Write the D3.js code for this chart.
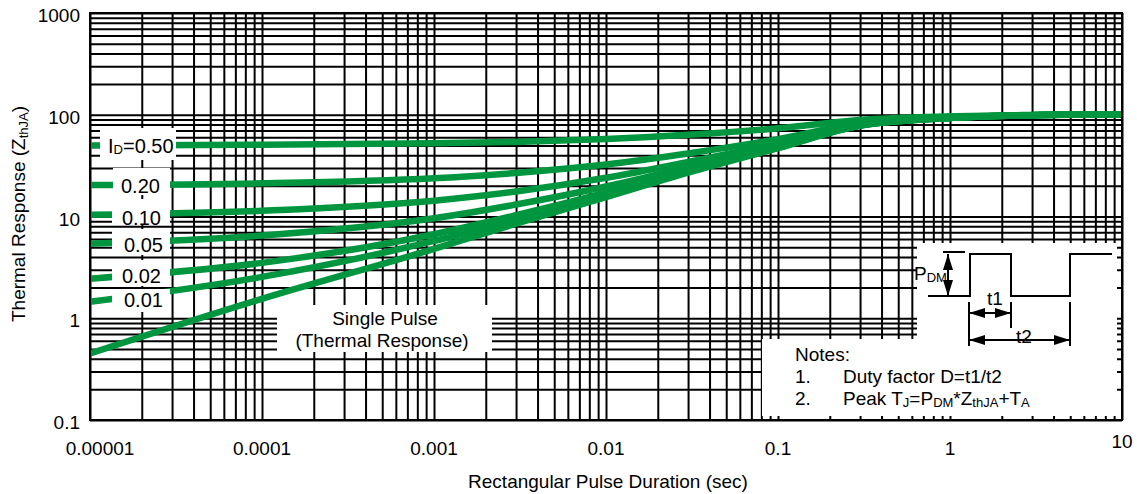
<!DOCTYPE html>
<html><head><meta charset="utf-8">
<script src="https://cdn.jsdelivr.net/npm/d3@7"></script>
<style>
body{margin:0;background:#fff;}
svg{display:block;font-family:"Liberation Sans",Arial,Helvetica,sans-serif;}
</style></head><body>
<svg id="chart" width="1137" height="494"></svg>
<script>
// ---------------- DATA ----------------
const pulseTimes = [1e-5, 1e-4, 1e-3, 3e-3, 1e-2, 3e-2, 1e-1, 3e-1, 1, 3, 10];
const dutyNames  = ["0.50", "0.20", "0.10", "0.05", "0.02", "0.01", "Single Pulse"];
const zD050  = [50,   50.8, 52.4, 54,   57.8, 63.5, 73.5, 89,   96.5, 99.5, 101];
const zD020  = [20.4, 21.2, 23.8, 26.8, 32.4, 41.6, 57.6, 82.4, 94.4, 99.2, 101];
const zD010  = [10.4, 11.4, 14.3, 17.6, 24,   34.3, 52.3, 80.2, 93.7, 99.1, 101];
const zD005  = [5.4,  6.5,  9.6,  13.1, 19.7, 30.6, 49.6, 79.1, 93.3, 99,   101];
const zD002  = [2.45, 3.5,  6.7,  10.3, 17.2, 28.5, 48,   78.4, 93.1, 99,   101];
const zD001  = [1.45, 2.55, 5.75, 9.4,  16.3, 27.7, 47.5, 78.2, 93,   99,   101];
const zSingle= [0.45, 1.55, 4.8,  8.5,  15.5, 27,   47,   78,   93,   99,   101];
const xTickValues = [1e-5, 1e-4, 1e-3, 1e-2, 1e-1, 1, 10];
const xTickLabels = ["0.00001", "0.0001", "0.001", "0.01", "0.1", "1", "10"];
const yTickValues = [0.1, 1, 10, 100, 1000];
const yTickLabels = ["0.1", "1", "10", "100", "1000"];
const xTitle = "Rectangular Pulse Duration (sec)";
const yTitleMain = "Thermal Response (Z", yTitleSub = "thJA", yTitleEnd = ")";
const singleText = ["Single Pulse", "(Thermal Response)"];
const notesTitle = "Notes:";

// ---------------- LAYOUT ----------------
const W = 1137, H = 494;
const L = 90, R = 1122, T = 13, B = 420;
const green = "#00963f";
const FS = 19;

const svg = d3.select("#chart");
svg.append("rect").attr("width", W).attr("height", H).attr("fill", "#fff");

const x = d3.scaleLog().domain([1e-5, 10]).range([L, R]);
const y = d3.scaleLog().domain([0.1, 1000]).range([B, T]);

// grid lines
const grid = svg.append("g");
grid.append("g").attr("transform", `translate(0,${B})`)
  .call(d3.axisBottom(x).tickValues(x.ticks()).tickSize(-(B - T)).tickFormat(""))
  .call(g => g.select(".domain").remove())
  .call(g => g.selectAll("line").attr("stroke", "#000").attr("stroke-width", 2));
grid.append("g").attr("transform", `translate(${L},0)`)
  .call(d3.axisLeft(y).tickValues(y.ticks()).tickSize(-(R - L)).tickFormat(""))
  .call(g => g.select(".domain").remove())
  .call(g => g.selectAll("line").attr("stroke", "#000").attr("stroke-width", 2));

// curves
const seriesValues = [zD050, zD020, zD010, zD005, zD002, zD001, zSingle];
const series = dutyNames.map((n, i) => ({name: n, pts: pulseTimes.map((t, j) => ({t, v: seriesValues[i][j]}))}));
const line = d3.line().x(d => x(d.t)).y(d => y(d.v)).curve(d3.curveMonotoneX);
svg.append("g").selectAll("path").data(series).join("path")
  .attr("d", d => line(d.pts))
  .attr("fill", "none").attr("stroke", green).attr("stroke-width", 6.5);

// white label boxes (left duty labels)
const labelBoxes = [
  {x0: 100, y0: 128, x1: 176, y1: 160, bx: 108, by: 153, sub: true},
  {x0: 113, y0: 168, x1: 170, y1: 195, bx: 121, by: 193},
  {x0: 112, y0: 199, x1: 170, y1: 225, bx: 122, by: 225},
  {x0: 112, y0: 229, x1: 170, y1: 255, bx: 124, by: 252},
  {x0: 112, y0: 260, x1: 170, y1: 286, bx: 122, by: 283},
  {x0: 112, y0: 289, x1: 170, y1: 312, bx: 124, by: 307}
];
const lab = svg.append("g");
labelBoxes.forEach((b, i) => {
  lab.append("rect").attr("x", b.x0).attr("y", b.y0).attr("width", b.x1 - b.x0).attr("height", b.y1 - b.y0).attr("fill", "#fff");
  const t = lab.append("text").attr("x", b.bx).attr("y", b.by).attr("font-size", 20).attr("fill", "#000");
  if (b.sub) {
    t.append("tspan").text("I");
    t.append("tspan").attr("font-size", 13).attr("dy", 1).text("D");
    t.append("tspan").attr("dy", -1).text("=" + dutyNames[i]);
  } else t.text(dutyNames[i]);
});

// single pulse box
svg.append("rect").attr("x", 277).attr("y", 305).attr("width", 215).attr("height", 47).attr("fill", "#fff");
svg.append("text").attr("x", 385).attr("y", 325).attr("text-anchor", "middle").attr("font-size", FS).text(singleText[0]);
svg.append("text").attr("x", 382).attr("y", 347).attr("text-anchor", "middle").attr("font-size", FS).text(singleText[1]);

// notes + inset box
svg.append("rect").attr("x", 762).attr("y", 339).attr("width", 355).attr("height", 77).attr("fill", "#fff");
svg.append("rect").attr("x", 917).attr("y", 243).attr("width", 200).attr("height", 100).attr("fill", "#fff");

// border
svg.append("rect").attr("x", L).attr("y", T).attr("width", R - L).attr("height", B - T)
  .attr("fill", "none").attr("stroke", "#000").attr("stroke-width", 2);

// tick labels
svg.append("g").selectAll("text").data(xTickValues).join("text")
  .attr("x", (d, i) => x(d) + (i === 0 ? 10 : 0))
  .attr("y", (d, i) => i === xTickValues.length - 1 ? 448 : 455)
  .attr("text-anchor", "middle").attr("font-size", FS)
  .text((d, i) => xTickLabels[i]);
svg.append("g").selectAll("text").data(yTickValues).join("text")
  .attr("x", 80).attr("y", d => y(d) + 9)
  .attr("text-anchor", "end").attr("font-size", FS)
  .text((d, i) => yTickLabels[i]);

// axis titles
svg.append("text").attr("x", 608).attr("y", 488).attr("text-anchor", "middle").attr("font-size", FS).text(xTitle);
const yt = svg.append("text").attr("transform", "translate(25,214) rotate(-90)").attr("text-anchor", "middle").attr("font-size", FS);
yt.append("tspan").text(yTitleMain);
yt.append("tspan").attr("font-size", 13).attr("dy", 3).text(yTitleSub);
yt.append("tspan").attr("dy", -3).text(yTitleEnd);

// notes text
const nt = svg.append("g").attr("font-size", FS);
nt.append("text").attr("x", 795).attr("y", 361).text(notesTitle);
nt.append("text").attr("x", 795).attr("y", 383).text("1.");
nt.append("text").attr("x", 843).attr("y", 383).text("Duty factor D=t1/t2");
nt.append("text").attr("x", 795).attr("y", 405).text("2.");
const n2 = nt.append("text").attr("x", 843).attr("y", 405);
n2.append("tspan").text("Peak T");
n2.append("tspan").attr("font-size", 13).attr("dy", 2).text("J");
n2.append("tspan").attr("dy", -2).text("=P");
n2.append("tspan").attr("font-size", 13).attr("dy", 2).text("DM");
n2.append("tspan").attr("dy", -2).text("*Z");
n2.append("tspan").attr("font-size", 13).attr("dy", 2).text("thJA");
n2.append("tspan").attr("dy", -2).text("+T");
n2.append("tspan").attr("font-size", 13).attr("dy", 2).text("A");

// inset pulse diagram
const ins = svg.append("g").attr("stroke", "#000").attr("stroke-width", 2).attr("fill", "none");
ins.append("path").attr("d", "M928,296 H970 V254 H1011 V296 H1070 V254 H1112");
ins.append("path").attr("d", "M943,252 H965");
ins.append("path").attr("d", "M948,254 V296");
ins.append("path").attr("d", "M969,302 V346 M1011,302 V328 M1070,302 V346");
ins.append("path").attr("d", "M969,313 H1011 M969,340 H1070");
function head(x0, y0, dx, dy) {
  const len = 16, hw = 5;
  const px = -dy, py = dx;
  return `M${x0},${y0} L${x0 - dx*len + px*hw},${y0 - dy*len + py*hw} L${x0 - dx*len - px*hw},${y0 - dy*len - py*hw} Z`;
}
const heads = [head(948,254,0,-1), head(948,296,0,1), head(969,313,-1,0), head(1011,313,1,0), head(969,340,-1,0), head(1070,340,1,0)];
svg.append("g").selectAll("path").data(heads).join("path").attr("d", d => d).attr("fill", "#000");
const pd = svg.append("text").attr("x", 914).attr("y", 280).attr("font-size", FS);
pd.append("tspan").text("P");
pd.append("tspan").attr("font-size", 13).attr("dy", 2).text("DM");
svg.append("text").attr("x", 995).attr("y", 305).attr("text-anchor", "middle").attr("font-size", FS).text("t1");
svg.append("text").attr("x", 1024).attr("y", 343).attr("text-anchor", "middle").attr("font-size", FS).text("t2");
</script></body></html>
